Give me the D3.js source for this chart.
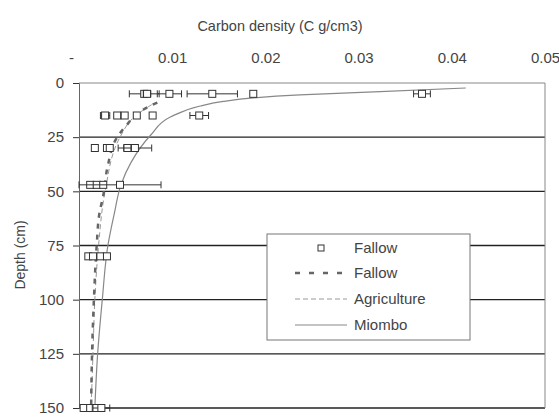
<!DOCTYPE html>
<meta charset="utf-8">
<style>
body { margin: 0; background: #fff; }
text { font-family: "Liberation Sans", Arial, sans-serif; fill: #444; }
</style>
<svg width="559" height="417"></svg>
<script src="https://d3js.org/d3.v7.min.js"></script>
<script>

// x tick values / labels (top axis)
var xTicks = [0, 0.01, 0.02, 0.03, 0.04, 0.05]
var xTickLabels = ["-", "0.01", "0.02", "0.03", "0.04", "0.05"]
var yTicks = [0, 25, 50, 75, 100, 125, 150]

// fallow measurements: [depth, mean, half error]
var fallowPts = [
  [5, 0.0070, 0.0016], [5, 0.0073, 0.0004], [5, 0.0097, 0.0013],
  [5, 0.0143, 0.0027], [5, 0.0187, 0.0003], [5, 0.0368, 0.0009],
  [15, 0.0028, 0.0005], [15, 0.0041, 0.0003], [15, 0.0049, 0.0003],
  [15, 0.0062, 0.0003], [15, 0.0079, 0.0003], [15, 0.0129, 0.0010],
  [30, 0.0017, 0.0002], [30, 0.0030, 0.0002], [30, 0.0033, 0.0002],
  [30, 0.0052, 0.0004], [30, 0.0060, 0.0018],
  [47, 0.0012, 0.0002], [47, 0.0019, 0.0002], [47, 0.0026, 0.0002],
  [47, 0.0044, 0.0044],
  [80, 0.0010, 0.0002], [80, 0.0015, 0.0002], [80, 0.0023, 0.0002],
  [80, 0.0030, 0.0002],
  [150, 0.0005, 0.0002], [150, 0.0012, 0.0002], [150, 0.0018, 0.0002],
  [150, 0.0024, 0.0009]
]

// fitted curves: depth / value
var fallowFitDepth = [9, 12.5, 20, 25, 38, 52, 60, 75, 100, 125, 150]
var fallowFitValue = [0.0084, 0.0068, 0.0050, 0.0041, 0.0031, 0.0026, 0.0022, 0.0019, 0.0016, 0.0014, 0.0013]

var agriDepth = [10, 15, 25, 50, 75, 100, 125, 150]
var agriValue = [0.0078, 0.0061, 0.0044, 0.0028, 0.0021, 0.0017, 0.0015, 0.0013]

var miomboDepth = [2.3, 4, 5.5, 6.9, 8.5, 10.6, 15.7, 24, 36.5, 47, 60, 75, 100, 125, 150]
var miomboValue = [0.0415, 0.0323, 0.0237, 0.0187, 0.0155, 0.0130, 0.0098, 0.0077, 0.0056, 0.0045, 0.0038, 0.0031, 0.0025, 0.0020, 0.0017]

var svg = d3.select("svg")

var x = d3.scaleLinear().domain([0, 0.05]).range([79, 545])
var y = d3.scaleLinear().domain([0, 150]).range([83, 408])

// grid lines
svg.selectAll(".grid")
  .data(yTicks.slice(1))
  .enter().append("line")
    .attr("x1", x(0)).attr("x2", x(0.05))
    .attr("y1", function(d) { return y(d) }).attr("y2", function(d) { return y(d) })
    .attr("stroke", "#222").attr("stroke-width", 1.3)

// frame top + right
svg.append("path")
  .attr("d", "M" + x(0) + "," + y(0) + "H" + x(0.05) + "V" + y(150))
  .attr("fill", "none").attr("stroke", "#888").attr("stroke-width", 1)

// y axis
var yAxis = svg.append("g")
  .attr("transform", "translate(" + x(0) + ",0)")
  .call(d3.axisLeft(y).tickValues(yTicks).tickSize(6).tickPadding(9))
yAxis.select(".domain").attr("stroke", "#666")
yAxis.selectAll(".tick line").attr("stroke", "#333")
yAxis.selectAll("text").attr("font-size", 15).attr("fill", "#444")
  .attr("font-family", "Liberation Sans, Arial, sans-serif")

// top x axis labels
var xAxis = svg.append("g")
  .attr("transform", "translate(0,52)")
  .call(d3.axisTop(x).tickValues(xTicks).tickSize(0)
    .tickFormat(function(d, i) { return xTickLabels[i] }))
xAxis.select(".domain").remove()
xAxis.selectAll("text").attr("font-size", 15).attr("fill", "#444")
  .attr("dy", "0.9em")
  .attr("font-family", "Liberation Sans, Arial, sans-serif")
xAxis.selectAll("text").filter(function(d) { return d === 0 }).attr("dx", -8)

svg.append("text")
  .attr("x", 280).attr("y", 31)
  .attr("text-anchor", "middle").attr("font-size", 14.5)
  .text("Carbon density (C g/cm3)")

svg.append("text")
  .attr("transform", "translate(25,255) rotate(-90)")
  .attr("text-anchor", "middle").attr("font-size", 14)
  .text("Depth (cm)")

// curves
var line = d3.line()
  .x(function(d) { return x(d[1]) })
  .y(function(d) { return y(d[0]) })
  .curve(d3.curveMonotoneY)

svg.append("path")
  .datum(d3.zip(miomboDepth, miomboValue))
  .attr("d", line)
  .attr("fill", "none").attr("stroke", "#888").attr("stroke-width", 1.2)

svg.append("path")
  .datum(d3.zip(agriDepth, agriValue))
  .attr("d", line)
  .attr("fill", "none").attr("stroke", "#999").attr("stroke-width", 1)
  .attr("stroke-dasharray", "5,3")

svg.append("path")
  .datum(d3.zip(fallowFitDepth, fallowFitValue))
  .attr("d", line)
  .attr("fill", "none").attr("stroke", "#666").attr("stroke-width", 2.5)
  .attr("stroke-dasharray", "5,6")

// error bars + markers
var pts = svg.selectAll(".pt")
  .data(fallowPts)
  .enter().append("g")
    .attr("class", "pt")

pts.append("path")
  .attr("d", function(d) {
    var y0 = y(d[0]), a = x(d[1] - d[2]), b = x(d[1] + d[2])
    return "M" + a + "," + y0 + "H" + b +
      "M" + a + "," + (y0 - 3.5) + "V" + (y0 + 3.5) +
      "M" + b + "," + (y0 - 3.5) + "V" + (y0 + 3.5)
  })
  .attr("fill", "none").attr("stroke", "#333").attr("stroke-width", 1)

pts.append("rect")
  .attr("x", function(d) { return x(d[1]) - 3.5 })
  .attr("y", function(d) { return y(d[0]) - 3.5 })
  .attr("width", 7).attr("height", 7)
  .attr("fill", "#fff").attr("stroke", "#333").attr("stroke-width", 1)

// legend
var lg = svg.append("g").attr("transform", "translate(267,234)")
lg.append("rect")
  .attr("width", 203).attr("height", 106)
  .attr("fill", "#fff").attr("stroke", "#777")

var legendNames = ["Fallow", "Fallow", "Agriculture", "Miombo"]
var legendY = [14, 39, 65, 91]

lg.append("rect").attr("x", 51).attr("y", legendY[0] - 3)
  .attr("width", 6).attr("height", 6)
  .attr("fill", "#fff").attr("stroke", "#333")
lg.append("line").attr("x1", 28).attr("x2", 80)
  .attr("y1", legendY[1]).attr("y2", legendY[1])
  .attr("stroke", "#666").attr("stroke-width", 2.5).attr("stroke-dasharray", "5,9")
lg.append("line").attr("x1", 28).attr("x2", 80)
  .attr("y1", legendY[2]).attr("y2", legendY[2])
  .attr("stroke", "#999").attr("stroke-width", 1).attr("stroke-dasharray", "5,3")
lg.append("line").attr("x1", 28).attr("x2", 80)
  .attr("y1", legendY[3]).attr("y2", legendY[3])
  .attr("stroke", "#888").attr("stroke-width", 1.2)

lg.selectAll(".lt")
  .data(legendNames)
  .enter().append("text")
    .attr("x", 87)
    .attr("y", function(d, i) { return legendY[i] })
    .attr("dy", "0.35em")
    .attr("font-size", 15)
    .text(function(d) { return d })

</script>
